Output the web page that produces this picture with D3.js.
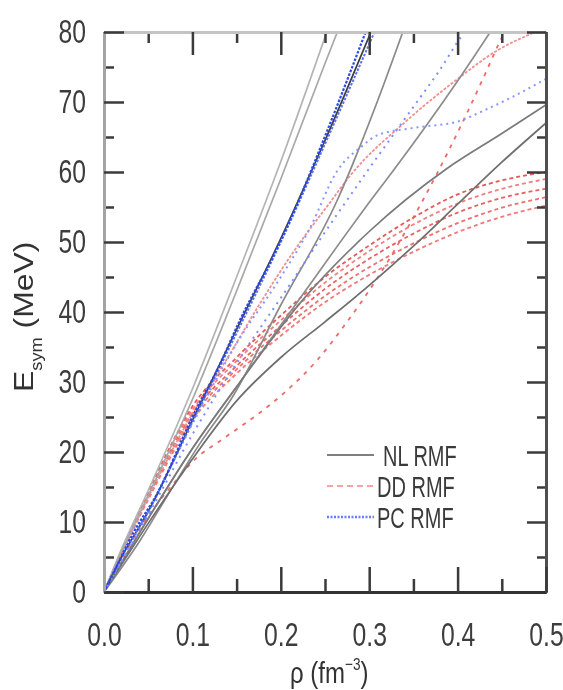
<!DOCTYPE html>
<html>
<head>
<meta charset="utf-8">
<script src="https://cdn.jsdelivr.net/npm/d3@7"></script>
<style>
  body { margin: 0; background: #fff; }
  svg { display: block; }
  text { font-family: "Liberation Sans", Arial, sans-serif; }
</style>
</head>
<body>
<svg id="chart" width="563" height="690"></svg>
<script>
// values, as [rho (fm^-3), Esym (MeV)]
var nl1 = [[0,0],[0.02,6.2],[0.05,14.5],[0.1,29],[0.15,45],[0.2,61.5],[0.252,80]];
var nl2 = [[0,0],[0.02,5.8],[0.05,13.8],[0.1,27.5],[0.15,43],[0.2,59],[0.25,75.5],[0.264,80]];
var nl3 = [[0,0],[0.02,5],[0.05,11.5],[0.1,24.5],[0.15,37.5],[0.2,50.5],[0.25,64.5],[0.302,80]];
var nl4 = [[0,0],[0.041,7.4],[0.071,13.6],[0.109,21.3],[0.146,28],[0.2,41],[0.264,56],[0.309,70],[0.338,80]];
var nl5 = [[0,0],[0.05,10.5],[0.1,20.5],[0.154,30],[0.222,42],[0.305,56.5],[0.329,60.5],[0.4,73],[0.437,80]];
var nl6 = [[0,0],[0.05,10.5],[0.1,20.5],[0.154,30],[0.222,41.3],[0.3,51.5],[0.388,60.5],[0.45,65.5],[0.5,69.6]];
var nl7 = [[0,0],[0.05,9.8],[0.1,19],[0.15,27.3],[0.2,33.5],[0.25,38.6],[0.3,43.8],[0.35,49.4],[0.4,55.4],[0.45,61.4],[0.5,67]];

var ddLow = [[0,0],[0.04,9],[0.08,15.7],[0.1,18.6],[0.137,22.1],[0.173,25.3],[0.207,28.8],[0.241,33.1],[0.275,38.6],[0.31,45],[0.35,53.5],[0.376,59.6],[0.406,67.2],[0.429,73.4],[0.448,78.7],[0.453,80]];
var ddUp = [[0,0],[0.05,13.5],[0.1,25.5],[0.14,33.5],[0.173,40.5],[0.216,48.9],[0.256,55.7],[0.278,59.4],[0.343,67.4],[0.397,73],[0.444,77.3],[0.488,80]];
var dd1 = [[0,0],[0.05,14.2],[0.1,26.5],[0.15,33.5],[0.2,39.5],[0.25,45],[0.3,49.5],[0.35,53.5],[0.4,56.8],[0.45,58.8],[0.5,60]];
var dd2 = [[0,0],[0.05,14],[0.1,26],[0.15,33],[0.2,38.8],[0.25,44.2],[0.3,48.7],[0.35,52.5],[0.4,55.5],[0.45,57.6],[0.5,59]];
var dd3 = [[0,0],[0.05,13.8],[0.1,25.5],[0.15,32.3],[0.2,38],[0.25,43.3],[0.3,47.6],[0.35,51.2],[0.4,54.2],[0.45,56.3],[0.5,57.6]];
var dd4 = [[0,0],[0.05,13.5],[0.1,25],[0.15,31.8],[0.2,37.3],[0.25,42.3],[0.3,46.4],[0.35,49.8],[0.4,52.7],[0.45,54.9],[0.5,56.4]];
var dd5 = [[0,0],[0.05,13.2],[0.1,24.5],[0.15,31.2],[0.2,36.6],[0.25,41.4],[0.3,45.3],[0.35,48.6],[0.4,51.4],[0.45,53.6],[0.5,55.2]];

var pc1 = [[0,0],[0.014,3.6],[0.033,8.4],[0.06,14],[0.1,25],[0.131,32.5],[0.154,38.9],[0.193,48.4],[0.21,53],[0.256,67],[0.296,80]];
var pc2 = [[0,0],[0.02,5],[0.05,11.5],[0.1,24.3],[0.15,37],[0.2,50],[0.25,64],[0.306,80]];
var pc3 = [[0,0],[0.05,11.5],[0.1,24],[0.15,35.5],[0.2,45],[0.233,52],[0.263,60],[0.293,63.8],[0.31,65.3],[0.35,66.3],[0.4,67.2],[0.43,68.8],[0.46,70.6],[0.5,73.3]];
var pc4 = [[0,0],[0.05,11],[0.1,22.5],[0.162,35],[0.2,42],[0.264,54],[0.3,60.5],[0.354,70],[0.38,74.6],[0.405,79.5],[0.408,80]];

var nlCurves = [nl1, nl2, nl4, nl5, nl6, nl7, nl3];
var ddCurves = [ddLow, dd5, dd4, dd3, dd2, dd1, ddUp];
var pcCurves = [pc3, pc4, pc2, pc1];

var xTicks = [0, 0.1, 0.2, 0.3, 0.4, 0.5];
var xMinorTicks = [0.05, 0.15, 0.25, 0.35, 0.45];
var yTicks = [0, 10, 20, 30, 40, 50, 60, 70, 80];
var yMinorTicks = [5, 15, 25, 35, 45, 55, 65, 75];
var legendLabels = ["NL RMF", "DD RMF", "PC RMF"];

// looks
var nlColors = ["#b4b4b4", "#a8a8a8", "#8a8a8a", "#8c8c8c", "#7a7a7a", "#6e6e6e", "#3c3c3c"];
var ddStyles = [
  { c: "#ee6a6a", d: "4,6" }, { c: "#f07a7a", d: "4,3" }, { c: "#ee7070", d: "4,3" },
  { c: "#ec6060", d: "4,3" }, { c: "#f08080", d: "4,3" }, { c: "#e85858", d: "4,3" },
  { c: "#f09090", d: "3,1.5" }
];
var pcStyles = [
  { c: "#8898ff", d: "2,4", w: 2 }, { c: "#7c8cff", d: "2,5", w: 2 },
  { c: "#5a70f0", d: "2.5,1.5", w: 2 }, { c: "#2a48e8", d: "2.5,1.5", w: 2.2 }
];

var svg = d3.select("#chart");
var x = d3.scaleLinear().domain([0, 0.5]).range([104, 546]);
var y = d3.scaleLinear().domain([0, 80]).range([592, 32]);

var defs = svg.append("defs");
defs.append("clipPath").attr("id", "plot-clip")
  .append("rect")
  .attr("x", x(0)).attr("y", y(80))
  .attr("width", x(0.5) - x(0)).attr("height", y(0) - y(80));
// the source figure is a soft, resampled scan
defs.append("filter").attr("id", "soft")
  .append("feGaussianBlur").attr("stdDeviation", 0.45);

var root = svg.append("g").attr("filter", "url(#soft)");

var line = d3.line()
  .x(function(d) { return x(d[0]); })
  .y(function(d) { return y(d[1]); })
  .curve(d3.curveMonotoneX);

var plot = root.append("g").attr("clip-path", "url(#plot-clip)");

plot.selectAll("path.dd").data(ddCurves).enter().append("path")
  .attr("class", "dd")
  .attr("d", line)
  .attr("fill", "none")
  .attr("stroke", function(d, i) { return ddStyles[i].c; })
  .attr("stroke-dasharray", function(d, i) { return ddStyles[i].d; })
  .attr("stroke-width", 1.8);

plot.selectAll("path.nl").data(nlCurves).enter().append("path")
  .attr("class", "nl")
  .attr("d", line)
  .attr("fill", "none")
  .attr("stroke", function(d, i) { return nlColors[i]; })
  .attr("stroke-width", 1.7);

plot.selectAll("path.pc").data(pcCurves).enter().append("path")
  .attr("class", "pc")
  .attr("d", line)
  .attr("fill", "none")
  .attr("stroke", function(d, i) { return pcStyles[i].c; })
  .attr("stroke-dasharray", function(d, i) { return pcStyles[i].d; })
  .attr("stroke-width", function(d, i) { return pcStyles[i].w; });

// frame + inward ticks on all four sides
function side(axis, tr, domainColor) {
  var g = root.append("g").attr("transform", tr).attr("color", "#3a3a3a").call(axis);
  g.select(".domain").attr("stroke", domainColor).attr("stroke-width", 3);
  g.selectAll(".tick line").attr("stroke-width", 2.5);
  return g;
}

side(d3.axisBottom(x).tickValues(xMinorTicks).tickSize(-13).tickSizeOuter(0).tickFormat(""), "translate(0,592)", "#303030");
side(d3.axisTop(x).tickValues(xMinorTicks).tickSize(-11).tickSizeOuter(0).tickFormat(""), "translate(0,32)", "#c4c4c4");
side(d3.axisLeft(y).tickValues(yMinorTicks).tickSize(-10).tickSizeOuter(0).tickFormat(""), "translate(104,0)", "#a4a4a4");
side(d3.axisRight(y).tickValues(yMinorTicks).tickSize(-9).tickSizeOuter(0).tickFormat(""), "translate(546,0)", "#505050");
side(d3.axisTop(x).tickValues(xTicks).tickSize(-23).tickSizeOuter(0).tickFormat(""), "translate(0,32)", "#c4c4c4");
side(d3.axisRight(y).tickValues(yTicks).tickSize(-19).tickSizeOuter(0).tickFormat(""), "translate(546,0)", "#505050");

var bottom = side(d3.axisBottom(x).tickValues(xTicks).tickSize(-25).tickSizeOuter(0)
  .tickPadding(31).tickFormat(d3.format(".1f")), "translate(0,592)", "#303030");
bottom.attr("font-size", 33).attr("font-family", "Liberation Sans, Arial, sans-serif");
bottom.selectAll("text").attr("fill", "#3c3c3c").attr("transform", "scale(0.75,1)");

var left = side(d3.axisLeft(y).tickValues(yTicks).tickSize(-20).tickSizeOuter(0)
  .tickPadding(24).tickFormat(d3.format("d")), "translate(104,0)", "#a4a4a4");
left.attr("font-size", 33).attr("font-family", "Liberation Sans, Arial, sans-serif");
left.selectAll("text").attr("fill", "#3c3c3c").attr("transform", "scale(0.75,1)");

// axis titles
var xt = root.append("text")
  .attr("transform", "translate(290,683) scale(0.8,1)")
  .attr("font-size", 30).attr("fill", "#333");
xt.append("tspan").text("ρ (fm");
xt.append("tspan").attr("font-size", 17).attr("dy", -13).text("−3");
xt.append("tspan").attr("dy", 13).text(")");

var yt = root.append("text")
  .attr("transform", "translate(33,392) rotate(-90) scale(1.14,1)")
  .attr("font-size", 28).attr("fill", "#333");
yt.append("tspan").text("E");
yt.append("tspan").attr("font-size", 16).attr("dy", 9).text("sym");
yt.append("tspan").attr("dy", -9).text(" (MeV)");

// legend
var legendStyles = [
  { c: "#808080", d: null, w: 2 },
  { c: "#f4a4a4", d: "6,4", w: 2 },
  { c: "#6a7cff", d: "2,1.5", w: 2.4 }
];
var legend = root.append("g");
legendLabels.forEach(function(label, i) {
  var ly = 455 + i * 31;
  legend.append("line")
    .attr("x1", 327).attr("x2", 374).attr("y1", ly).attr("y2", ly)
    .attr("stroke", legendStyles[i].c)
    .attr("stroke-width", legendStyles[i].w)
    .attr("stroke-dasharray", legendStyles[i].d);
  legend.append("text")
    .attr("transform", "translate(" + (i === 0 ? 383 : 377) + "," + (ly + 10.5) + ") scale(0.69,1)")
    .attr("font-size", 29).attr("fill", "#3a3a3a")
    .text(label);
});
</script>
</body>
</html>
